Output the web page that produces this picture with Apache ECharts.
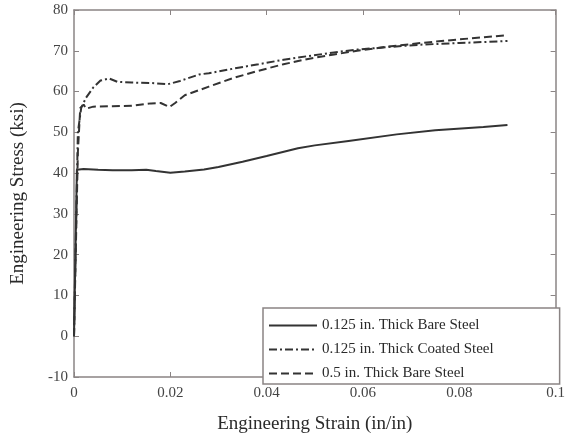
<!DOCTYPE html>
<html>
<head>
<meta charset="utf-8">
<script src="https://cdn.jsdelivr.net/npm/echarts@6/dist/echarts.min.js"></script>
<style>html,body{margin:0;padding:0;background:#fff;}#c{width:568px;height:439px;}</style>
</head>
<body>
<div id="c"></div>
<script>
var seriesNames = ['0.125 in. Thick Bare Steel', '0.125 in. Thick Coated Steel', '0.5 in. Thick Bare Steel'];
var xTickLabels = ['0', '0.02', '0.04', '0.06', '0.08', '0.1'];
var yTickLabels = ['-10', '0', '10', '20', '30', '40', '50', '60', '70', '80'];

var strainBare125 = [0, 0.0006, 0.001, 0.002, 0.005, 0.008, 0.012, 0.015, 0.017, 0.02, 0.023, 0.027, 0.03, 0.035, 0.04, 0.0465, 0.05, 0.057, 0.067, 0.075, 0.085, 0.09];
var stressBare125 = [0, 40.8, 41.2, 41.0, 40.8, 40.7, 40.7, 40.8, 40.5, 40.1, 40.4, 40.9, 41.5, 42.8, 44.2, 46.1, 46.8, 47.9, 49.5, 50.5, 51.3, 51.8];

var strainCoated125 = [0, 0.0008, 0.0015, 0.0025, 0.004, 0.0055, 0.0073, 0.009, 0.012, 0.016, 0.0195, 0.022, 0.026, 0.028, 0.033, 0.0383, 0.0435, 0.0486, 0.054, 0.0588, 0.065, 0.072, 0.08, 0.09];
var stressCoated125 = [0, 50, 56, 58.5, 61, 62.7, 63.2, 62.4, 62.2, 62.1, 61.8, 62.6, 64.2, 64.5, 65.6, 66.7, 67.8, 68.7, 69.6, 70.3, 70.9, 71.5, 71.9, 72.4];

var strainBare500 = [0, 0.0008, 0.0013, 0.002, 0.0025, 0.004, 0.008, 0.012, 0.016, 0.018, 0.0198, 0.021, 0.023, 0.028, 0.033, 0.0383, 0.0435, 0.0486, 0.054, 0.0588, 0.065, 0.072, 0.08, 0.09];
var stressBare500 = [0, 45, 56, 56.8, 55.8, 56.3, 56.4, 56.5, 57.1, 57.2, 56.2, 57.2, 59.1, 61.2, 63.3, 65.1, 66.7, 68.0, 69.1, 70.0, 71.0, 71.9, 72.8, 73.8];

function pairs(xs, ys) { return xs.map(function (x, i) { return [x, ys[i]]; }); }

var serif = '"Liberation Serif", "DejaVu Serif", serif';
var frameColor = '#8a8484';
var lineColor = '#333333';

function axisBase() {
  return {
    axisLine: { show: true, onZero: false, lineStyle: { color: frameColor, width: 1.5 } },
    axisTick: { show: true, inside: true, length: 5, lineStyle: { color: frameColor } },
    splitLine: { show: false }
  };
}

var chart = echarts.init(document.getElementById('c'));
chart.setOption({
  backgroundColor: '#ffffff',
  animation: false,
  grid: { left: 74, right: 8, top: 10, bottom: 55 },
  xAxis: [
    Object.assign(axisBase(), {
      type: 'value', min: 0, max: 0.1, interval: 0.02, position: 'bottom',
      name: 'Engineering Strain (in/in)', nameLocation: 'middle', nameGap: 38,
      nameTextStyle: { fontFamily: serif, fontSize: 19, color: '#2a2a2a' },
      axisLabel: { fontFamily: serif, fontSize: 15, color: '#444', margin: 9,
        formatter: function (v) { return xTickLabels[Math.round(v / 0.02)]; } }
    }),
    Object.assign(axisBase(), {
      type: 'value', min: 0, max: 0.1, interval: 0.02, position: 'top',
      axisLabel: { show: false }
    })
  ],
  yAxis: [
    Object.assign(axisBase(), {
      type: 'value', min: -10, max: 80, interval: 10, position: 'left',
      name: 'Engineering Stress (ksi)', nameLocation: 'middle', nameGap: 46,
      nameTextStyle: { fontFamily: serif, fontSize: 19, color: '#2a2a2a' },
      axisLabel: { fontFamily: serif, fontSize: 15, color: '#444', margin: 6,
        formatter: function (v) { return yTickLabels[Math.round((v + 10) / 10)]; } }
    }),
    Object.assign(axisBase(), {
      type: 'value', min: -10, max: 80, interval: 10, position: 'right',
      axisLabel: { show: false }
    })
  ],
  legend: {
    orient: 'vertical', left: 263, top: 308,
    padding: [10, 66, 3, 5],
    itemWidth: 48, itemHeight: 14, itemGap: 9,
    backgroundColor: '#ffffff', borderColor: frameColor, borderWidth: 1.5, borderRadius: 0,
    itemStyle: { color: 'rgba(0,0,0,0)', borderWidth: 0 },
    textStyle: { fontFamily: serif, fontSize: 15, color: '#2a2a2a' },
    data: seriesNames
  },
  series: [
    { name: seriesNames[0], type: 'line', symbol: 'none', data: pairs(strainBare125, stressBare125),
      lineStyle: { color: lineColor, width: 2, type: 'solid' }, itemStyle: { color: lineColor } },
    { name: seriesNames[1], type: 'line', symbol: 'none', data: pairs(strainCoated125, stressCoated125),
      lineStyle: { color: lineColor, width: 2, type: [8, 3, 2, 3] }, itemStyle: { color: lineColor } },
    { name: seriesNames[2], type: 'line', symbol: 'none', data: pairs(strainBare500, stressBare500),
      lineStyle: { color: lineColor, width: 2, type: [8, 4] }, itemStyle: { color: lineColor } }
  ]
});
</script>
</body>
</html>
